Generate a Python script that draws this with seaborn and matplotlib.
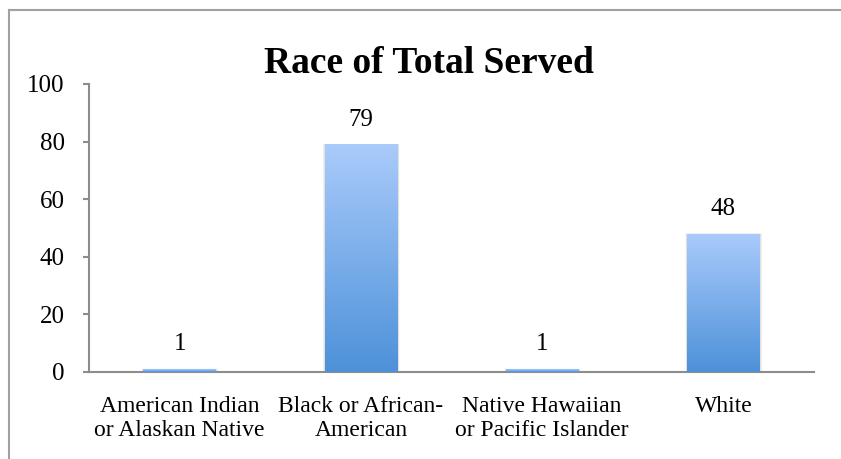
import numpy as np
import pandas as pd
import matplotlib
matplotlib.use("Agg")
import matplotlib.pyplot as plt
import seaborn as sns
from matplotlib.colors import LinearSegmentedColormap
from matplotlib.patches import Rectangle

categories = ["American Indian\nor Alaskan Native", "Black or African-\nAmerican",
              "Native Hawaiian\nor Pacific Islander", "White"]
values = [1, 79, 1, 48]
yticks = [0, 20, 40, 60, 80, 100]
title = "Race of Total Served"

sns.set_theme(style="white")
plt.rcParams['font.family'] = ['Liberation Serif', 'DejaVu Serif']

W, H = 841, 459
fig = plt.figure(figsize=(W / 100, H / 100), dpi=100)
ax = fig.add_axes([89 / W, 1 - 372 / H, (814 - 89) / W, (372 - 84) / H])

df = pd.DataFrame({"cat": categories, "val": values})
sns.barplot(data=df, x="cat", y="val", ax=ax, color="#7fb0ee", width=0.4,
            saturation=1, edgecolor="none")

cmap = LinearSegmentedColormap.from_list("g", ["#4d91d9", "#aacbfb"])
grad = np.linspace(0, 1, 256).reshape(-1, 1)
for p in list(ax.patches):
    x0, y0 = p.get_x(), p.get_y()
    w, h = p.get_width(), p.get_height()
    # soft shadow
    for i, a in enumerate([0.06, 0.04, 0.02]):
        d = (i + 1) * 0.012
        ax.add_patch(Rectangle((x0 - d * 0.3, y0), w + d * 0.6 + 0.004, h + 0.3 * (i + 1) * 0.3,
                               facecolor="black", alpha=a, edgecolor="none", zorder=1.5))
    p.set_zorder(2)
    im = ax.imshow(grad, cmap=cmap, aspect="auto", extent=(x0, x0 + w, y0, y0 + h),
                   origin="lower", zorder=3, interpolation="bilinear")
    im.set_clip_path(p)

ax.set_xlim(-0.5, len(categories) - 0.5)
ax.set_ylim(0, 100)
ax.set_yticks(yticks)
ax.set_yticklabels([str(t) for t in yticks], fontsize=18)
ax.set_xticks(np.arange(len(categories)))
ax.set_xticklabels(categories, fontsize=17, linespacing=1.2)
ax.set_xlabel("")
ax.set_ylabel("")

# category boundary ticks
ax.set_xticks(np.arange(len(categories) + 1) - 0.5, minor=True)
ax.tick_params(axis="x", which="major", length=0, pad=17)
ax.tick_params(axis="x", which="minor", length=5, width=1.5, color="#8c8c8c", direction="out")
ax.tick_params(axis="y", which="major", length=4.5, width=1.5, color="#8c8c8c", direction="out", pad=13, left=True)
for lab in ax.get_xticklabels() + ax.get_yticklabels():
    lab.set_color("black")

for s in ["top", "right"]:
    ax.spines[s].set_visible(False)
for s in ["left", "bottom"]:
    ax.spines[s].set_color("#8c8c8c")
    ax.spines[s].set_linewidth(1.5)

for i, v in enumerate(values):
    ax.annotate(str(v), xy=(i, v), xytext=(0, 13.5), textcoords="offset points",
                ha="center", va="baseline", fontsize=18, color="black")

fig.text(428.5 / W, 1 - 72.7 / H, title, ha="center", va="baseline",
         fontsize=27, fontweight="bold", color="black")

# chart area border (extends past the image on right and bottom)
fig.add_artist(Rectangle((9 / W, -0.1), 1.2, 1 - 10 / H + 0.1, transform=fig.transFigure,
                         facecolor="none", edgecolor="#a0a0a0", linewidth=1.5))

fig.savefig("out.png", dpi=100)
